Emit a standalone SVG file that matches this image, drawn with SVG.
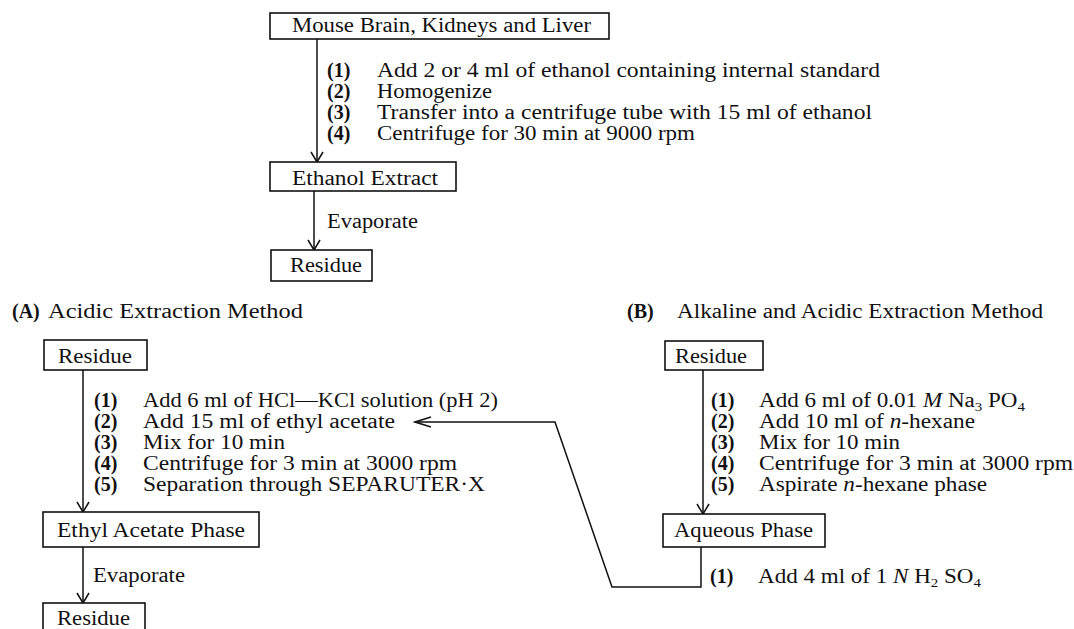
<svg xmlns="http://www.w3.org/2000/svg" width="1074" height="629" viewBox="0 0 1074 629">
<style>
.t{font-family:"Liberation Serif","Times New Roman",serif;font-size:20px;fill:#111}
.n{font-weight:bold}
.box{fill:#fff;stroke:#111;stroke-width:1.6}
.ln{fill:none;stroke:#111;stroke-width:1.5}
.it{font-style:italic}
.sub{font-size:13px}
</style>
<defs>
<marker id="arr" viewBox="-12 -8 14 16" markerWidth="14" markerHeight="16" refX="0" refY="0" orient="auto" markerUnits="userSpaceOnUse">
<path d="M-10,-6 L0,0 L-10,6" fill="none" stroke="#111" stroke-width="1.5"/>
</marker>
<marker id="arrL" viewBox="-18 -8 20 16" markerWidth="20" markerHeight="16" refX="0" refY="0" orient="auto" markerUnits="userSpaceOnUse">
<path d="M-16,-5 L0,0 L-16,5" fill="none" stroke="#111" stroke-width="1.5"/>
</marker>
</defs>

<g id="connectors">
<line class="ln" x1="317" y1="39" x2="317" y2="162" marker-end="url(#arr)"/>
<line class="ln" x1="314" y1="191" x2="314" y2="250" marker-end="url(#arr)"/>
<line class="ln" x1="83" y1="370" x2="83" y2="512" marker-end="url(#arr)"/>
<line class="ln" x1="83" y1="547" x2="83" y2="603" marker-end="url(#arr)"/>
<line class="ln" x1="703" y1="370" x2="703" y2="514" marker-end="url(#arr)"/>
<polyline class="ln" points="701,547 701,587 612,587 555,422 415,422" marker-end="url(#arrL)"/>
</g>

<g id="n-mouse">
<rect class="box" x="270" y="13" width="339" height="26"/>
<text class="t" x="292" y="32" textLength="299" lengthAdjust="spacingAndGlyphs">Mouse Brain, Kidneys and Liver</text>
</g>

<g id="steps-top">
<text class="t n" x="327" y="77">(1)</text>
<text class="t" x="377" y="77" textLength="503" lengthAdjust="spacingAndGlyphs">Add 2 or 4 ml of ethanol containing internal standard</text>
<text class="t n" x="327" y="98">(2)</text>
<text class="t" x="377" y="98" textLength="115" lengthAdjust="spacingAndGlyphs">Homogenize</text>
<text class="t n" x="327" y="119">(3)</text>
<text class="t" x="377" y="119" textLength="495" lengthAdjust="spacingAndGlyphs">Transfer into a centrifuge tube with 15 ml of ethanol</text>
<text class="t n" x="327" y="140">(4)</text>
<text class="t" x="377" y="140" textLength="318" lengthAdjust="spacingAndGlyphs">Centrifuge for 30 min at 9000 rpm</text>
</g>

<g id="n-ethanol">
<rect class="box" x="270" y="162" width="186" height="29"/>
<text class="t" x="292" y="185" textLength="146" lengthAdjust="spacingAndGlyphs">Ethanol Extract</text>
</g>
<text class="t" x="327" y="228" textLength="91" lengthAdjust="spacingAndGlyphs">Evaporate</text>
<g id="n-residue-top">
<rect class="box" x="271" y="250" width="101" height="31"/>
<text class="t" x="290" y="272" textLength="72" lengthAdjust="spacingAndGlyphs">Residue</text>
</g>

<g id="title-a">
<text class="t n" x="12" y="318">(A)</text>
<text class="t" x="48" y="318" textLength="255" lengthAdjust="spacingAndGlyphs">Acidic Extraction Method</text>
</g>
<g id="title-b">
<text class="t n" x="627" y="318">(B)</text>
<text class="t" x="677" y="318" textLength="366" lengthAdjust="spacingAndGlyphs">Alkaline and Acidic Extraction Method</text>
</g>

<g id="n-residue-a">
<rect class="box" x="44" y="340" width="103" height="30"/>
<text class="t" x="58" y="363" textLength="74" lengthAdjust="spacingAndGlyphs">Residue</text>
</g>
<g id="steps-a">
<text class="t n" x="94" y="407">(1)</text>
<text class="t" x="143" y="407" textLength="355" lengthAdjust="spacingAndGlyphs">Add 6 ml of HCl—KCl solution (pH 2)</text>
<text class="t n" x="94" y="428">(2)</text>
<text class="t" x="143" y="428" textLength="252" lengthAdjust="spacingAndGlyphs">Add 15 ml of ethyl acetate</text>
<text class="t n" x="94" y="449">(3)</text>
<text class="t" x="143" y="449" textLength="142" lengthAdjust="spacingAndGlyphs">Mix for 10 min</text>
<text class="t n" x="94" y="470">(4)</text>
<text class="t" x="143" y="470" textLength="314" lengthAdjust="spacingAndGlyphs">Centrifuge for 3 min at 3000 rpm</text>
<text class="t n" x="94" y="491">(5)</text>
<text class="t" x="143" y="491" textLength="342" lengthAdjust="spacingAndGlyphs">Separation through SEPARUTER·X</text>
</g>
<g id="n-ethyl">
<rect class="box" x="43" y="512" width="216" height="35"/>
<text class="t" x="57" y="537" textLength="188" lengthAdjust="spacingAndGlyphs">Ethyl Acetate Phase</text>
</g>
<text class="t" x="93" y="582" textLength="92" lengthAdjust="spacingAndGlyphs">Evaporate</text>
<g id="n-residue-a2">
<rect class="box" x="43" y="603" width="102" height="40"/>
<text class="t" x="57" y="625" textLength="73" lengthAdjust="spacingAndGlyphs">Residue</text>
</g>

<g id="n-residue-b">
<rect class="box" x="665" y="341" width="98" height="29"/>
<text class="t" x="675" y="363" textLength="72" lengthAdjust="spacingAndGlyphs">Residue</text>
</g>
<g id="steps-b">
<text class="t n" x="711" y="407">(1)</text>
<text class="t" x="759" y="407" textLength="266" lengthAdjust="spacingAndGlyphs">Add 6 ml of 0.01 <tspan class="it">M</tspan> Na<tspan class="sub" dy="4">3</tspan><tspan dy="-4"> PO</tspan><tspan class="sub" dy="4">4</tspan></text>
<text class="t n" x="711" y="428">(2)</text>
<text class="t" x="759" y="428" textLength="216" lengthAdjust="spacingAndGlyphs">Add 10 ml of <tspan class="it">n</tspan>-hexane</text>
<text class="t n" x="711" y="449">(3)</text>
<text class="t" x="759" y="449" textLength="141" lengthAdjust="spacingAndGlyphs">Mix for 10 min</text>
<text class="t n" x="711" y="470">(4)</text>
<text class="t" x="759" y="470" textLength="314" lengthAdjust="spacingAndGlyphs">Centrifuge for 3 min at 3000 rpm</text>
<text class="t n" x="711" y="491">(5)</text>
<text class="t" x="759" y="491" textLength="228" lengthAdjust="spacingAndGlyphs">Aspirate <tspan class="it">n</tspan>-hexane phase</text>
</g>
<g id="n-aqueous">
<rect class="box" x="663" y="514" width="162" height="33"/>
<text class="t" x="674" y="537" textLength="139" lengthAdjust="spacingAndGlyphs">Aqueous Phase</text>
</g>
<g id="step-aq">
<text class="t n" x="710" y="583">(1)</text>
<text class="t" x="758" y="583" textLength="223" lengthAdjust="spacingAndGlyphs">Add 4 ml of 1 <tspan class="it">N</tspan> H<tspan class="sub" dy="4">2</tspan><tspan dy="-4"> SO</tspan><tspan class="sub" dy="4">4</tspan></text>
</g>
</svg>
